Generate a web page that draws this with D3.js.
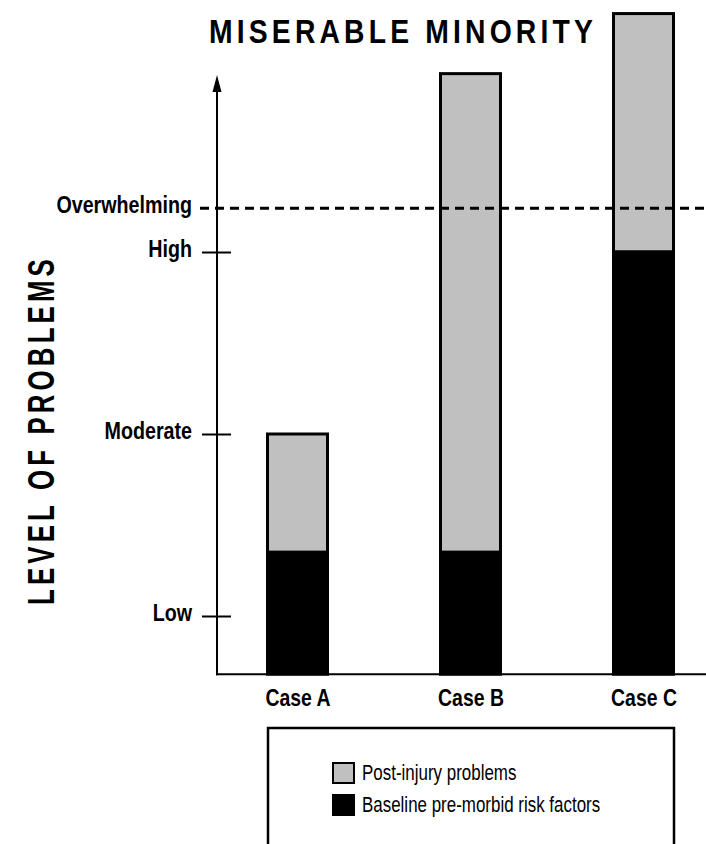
<!DOCTYPE html>
<html>
<head>
  <meta charset="utf-8">
  <style>
    body { margin: 0; background: #fff; }
    svg { display: block; }
    text { font-family: "Liberation Sans", Arial, Helvetica, sans-serif; fill: #000; }
    .bold { font-weight: bold; }
  </style>
</head>
<body>
  <script src="https://d3js.org/d3.v7.min.js"></script>
  <script>
    // chart data (level units: Low = 1, Moderate = 2, High = 3)
    const cases = ["Case A", "Case B", "Case C"];
    const baselineRisk = [1.35, 1.35, 3.0];      // black part
    const postInjury = [0.65, 2.63, 1.31];       // grey part stacked on top
    const levelNames = ["Low", "Moderate", "High"];
    const levelValues = [1, 2, 3];
    const overwhelmingLevel = 3.24;
    const axisFloor = 0.68;
    const legendItems = ["Post-injury problems", "Baseline pre-morbid risk factors"];
    const legendColors = ["#c0c0c0", "#000000"];

    var width = 706;
    var height = 844;
    var axisX = 217;
    var grey = "#c0c0c0";

    // the original uses a condensed face; squeeze the glyphs horizontally
    function condense(sel, k) {
      sel.each(function () {
        let w = this.getComputedTextLength();
        d3.select(this)
          .attr("textLength", w * k)
          .attr("lengthAdjust", "spacingAndGlyphs");
      });
    }

    var svg = d3.select("body").append("svg")
      .attr("width", width)
      .attr("height", height);

    var y = d3.scaleLinear().domain([1, 3]).range([616, 252]);
    var x = d3.scalePoint().domain(cases).range([211, 730]).padding(0.5);
    var barWidth = 60;
    var floorY = y(axisFloor);

    // title
    svg.append("text")
      .attr("class", "bold")
      .attr("x", 209)
      .attr("y", 43)
      .attr("textLength", 388)
      .attr("lengthAdjust", "spacingAndGlyphs")
      .style("font-size", "34px")
      .style("letter-spacing", "5px")
      .text("MISERABLE MINORITY");

    // y axis title
    svg.append("text")
      .attr("class", "bold")
      .attr("transform", "translate(54,605) rotate(-90)")
      .attr("textLength", 350)
      .attr("lengthAdjust", "spacingAndGlyphs")
      .style("font-size", "37px")
      .style("letter-spacing", "6px")
      .text("LEVEL OF PROBLEMS");

    // bars
    var bars = svg.append("g").attr("id", "bars");
    cases.forEach((c, i) => {
      let top = baselineRisk[i] + postInjury[i];
      bars.append("rect")
        .attr("x", x(c) - barWidth / 2)
        .attr("y", y(top))
        .attr("width", barWidth)
        .attr("height", y(baselineRisk[i]) - y(top))
        .style("fill", grey)
        .style("stroke", "#000")
        .style("stroke-width", 3);
      bars.append("rect")
        .attr("x", x(c) - barWidth / 2)
        .attr("y", y(baselineRisk[i]))
        .attr("width", barWidth)
        .attr("height", floorY - y(baselineRisk[i]))
        .style("fill", "#000")
        .style("stroke", "#000")
        .style("stroke-width", 3);
    });

    // dashed "overwhelming" line
    svg.append("line")
      .attr("x1", 200).attr("x2", width)
      .attr("y1", y(overwhelmingLevel)).attr("y2", y(overwhelmingLevel))
      .style("stroke", "#000")
      .style("stroke-width", 3)
      .style("stroke-dasharray", "9,6");
    svg.append("text")
      .attr("class", "bold")
      .attr("x", 192)
      .attr("y", y(overwhelmingLevel))
      .attr("dy", "0.2em")
      .attr("text-anchor", "end")
      .style("font-size", "24px")
      .text("Overwhelming")
      .call(condense, 0.82);

    // y axis: ticks crossing the axis line
    var yAxis = svg.append("g")
      .attr("transform", "translate(231,0)")
      .call(d3.axisLeft(y)
        .tickValues(levelValues)
        .tickFormat((d, i) => levelNames[i])
        .tickSize(29)
        .tickPadding(10));
    yAxis.select(".domain").remove();
    yAxis.selectAll(".tick line").style("stroke", "#000").style("stroke-width", 2);
    yAxis.selectAll(".tick text")
      .attr("class", "bold")
      .attr("dy", "0.2em")
      .style("font-size", "24px")
      .style("font-family", null)
      .call(condense, 0.82);

    svg.append("line")
      .attr("x1", axisX).attr("x2", axisX)
      .attr("y1", floorY + 1).attr("y2", 88)
      .style("stroke", "#000")
      .style("stroke-width", 2);
    svg.append("path")
      .attr("d", d3.line()([[axisX, 75], [axisX - 4.5, 92], [axisX + 4.5, 92]]) + "Z")
      .style("fill", "#000");

    // x axis
    svg.append("line")
      .attr("x1", axisX - 1).attr("x2", width)
      .attr("y1", floorY).attr("y2", floorY)
      .style("stroke", "#000")
      .style("stroke-width", 2);
    var xAxis = svg.append("g")
      .attr("transform", "translate(0," + floorY + ")")
      .call(d3.axisBottom(x).tickSize(0).tickPadding(15));
    xAxis.select(".domain").remove();
    xAxis.selectAll(".tick text")
      .attr("class", "bold")
      .style("font-size", "24px")
      .style("font-family", null)
      .call(condense, 0.81);

    // legend
    var legend = svg.append("g").attr("id", "legend");
    legend.append("rect")
      .attr("x", 268).attr("y", 728)
      .attr("width", 406).attr("height", 150)
      .style("fill", "none")
      .style("stroke", "#000")
      .style("stroke-width", 2.5);
    legendItems.forEach((name, i) => {
      let row = legend.append("g").attr("transform", "translate(333," + (763 + i * 32) + ")");
      row.append("rect")
        .attr("width", 21).attr("height", 20)
        .style("fill", legendColors[i])
        .style("stroke", "#000")
        .style("stroke-width", 2);
      row.append("text")
        .attr("x", 29)
        .attr("y", 17)
        .style("font-size", "22px")
        .text(name)
        .call(condense, 0.77);
    });
  </script>
</body>
</html>
